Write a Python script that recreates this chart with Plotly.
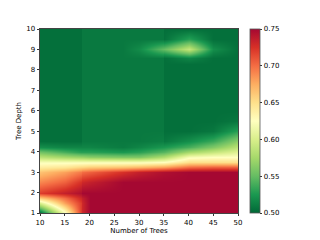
import plotly.graph_objects as go

trees = [10, 15, 18.3, 18.4, 20, 26.7, 30, 35, 35.1, 40, 45, 50]
depths = [1, 1.5, 1.75, 2, 2.5, 3, 3.25, 3.5, 3.75, 4, 4.25, 4.5, 5, 5.5, 6, 8.3, 8.6, 9, 9.5, 10]
tick_x = [10, 15, 20, 25, 30, 35, 40, 45, 50]
tick_y = [1, 2, 3, 4, 5, 6, 7, 8, 9, 10]
colors = ["#006837", "#1a9850", "#66bd63", "#a6d96a", "#d9ef8b", "#ffffbf",
          "#fee08b", "#fdae61", "#f46d43", "#d73027", "#a50832"]
r100 = [.50, .62, .72, .73, .75, .75, .75, .75, .75, .75, .75, .75]
r150 = [.60, .68, .72, .73, .75, .75, .75, .75, .75, .75, .75, .75]
r175 = [.66, .70, .73, .735, .75, .75, .75, .75, .75, .75, .75, .75]
r200 = [.72, .735, .745, .75, .75, .75, .75, .75, .75, .75, .75, .75]
r250 = [.69, .705, .725, .73, .735, .75, .75, .75, .75, .75, .75, .75]
r300 = [.665, .68, .695, .70, .705, .725, .735, .745, .745, .75, .75, .75]
r325 = [.64, .645, .655, .655, .66, .665, .67, .68, .68, .70, .705, .705]
r350 = [.62, .62, .62, .62, .62, .62, .62, .625, .625, .65, .65, .65]
r375 = [.585, .575, .57, .57, .565, .56, .56, .58, .58, .62, .625, .625]
r400 = [.555, .54, .53, .53, .53, .525, .53, .545, .545, .575, .59, .605]
r425 = [.52, .515, .515, .515, .515, .51, .515, .525, .525, .54, .56, .585]
r450 = [.504, .504, .504, .509, .509, .509, .509, .512, .508, .52, .535, .565]
r500 = [.504, .504, .504, .509, .509, .509, .509, .509, .504, .504, .508, .53]
r550 = [.504, .504, .504, .509, .509, .509, .509, .509, .504, .504, .504, .508]
r600 = [.504, .504, .504, .509, .509, .509, .509, .509, .504, .504, .504, .504]
r830 = [.504, .504, .504, .509, .509, .509, .509, .509, .504, .504, .504, .504]
r860 = [.504, .504, .504, .509, .509, .509, .509, .509, .504, .515, .504, .504]
r900 = [.504, .504, .504, .509, .509, .509, .518, .55, .55, .59, .52, .504]
r950 = [.504, .504, .504, .509, .509, .509, .509, .509, .505, .53, .504, .504]
r1000 = [.504, .504, .504, .509, .509, .509, .509, .509, .504, .504, .504, .504]
z = [r100, r150, r175, r200, r250, r300, r325, r350, r375, r400, r425, r450,
     r500, r550, r600, r830, r860, r900, r950, r1000]

font = dict(family="DejaVu Sans", size=7, color="#000000")
axis = dict(ticks="outside", ticklen=2.5, tickwidth=0.6, tickcolor="#333333",
            showgrid=False, zeroline=False, showline=True, linewidth=0.8,
            linecolor="#444444", mirror=True, tickfont=font, automargin=False)
fig = go.Figure(go.Heatmap(
    x=trees, y=depths, z=z, zsmooth="best", zmin=0.5, zmax=0.75,
    colorscale=[[i / (len(colors) - 1), c] for i, c in enumerate(colors)], hoverinfo="skip",
    colorbar=dict(thickness=9.5, len=1, lenmode="fraction", x=1.062, xanchor="left",
                  y=0, yanchor="bottom", xpad=0, ypad=0, tickvals=[0.5, 0.55, 0.6, 0.65, 0.7, 0.75],
                  ticktext=["0.50", "0.55", "0.60", "0.65", "0.70", "0.75"],
                  ticks="outside", ticklen=2.5, tickwidth=0.6, tickcolor="#333333",
                  outlinewidth=0.8, outlinecolor="#555555", tickfont=font)))
fig.update_layout(
    width=320, height=240, autosize=False, paper_bgcolor="white", plot_bgcolor="white",
    margin=dict(l=40, r=81.5, t=29, b=27, pad=0, autoexpand=False),
    xaxis=dict(axis, range=[10, 50], tickvals=tick_x,
               title=dict(text="Number of Trees", font=font, standoff=2)),
    yaxis=dict(axis, range=[1, 10], tickvals=tick_y,
               title=dict(text="Tree Depth", font=font, standoff=3)),
)
fig.write_html("out.html", config=dict(displayModeBar=False),
               post_script="document.body.style.margin='0';")
